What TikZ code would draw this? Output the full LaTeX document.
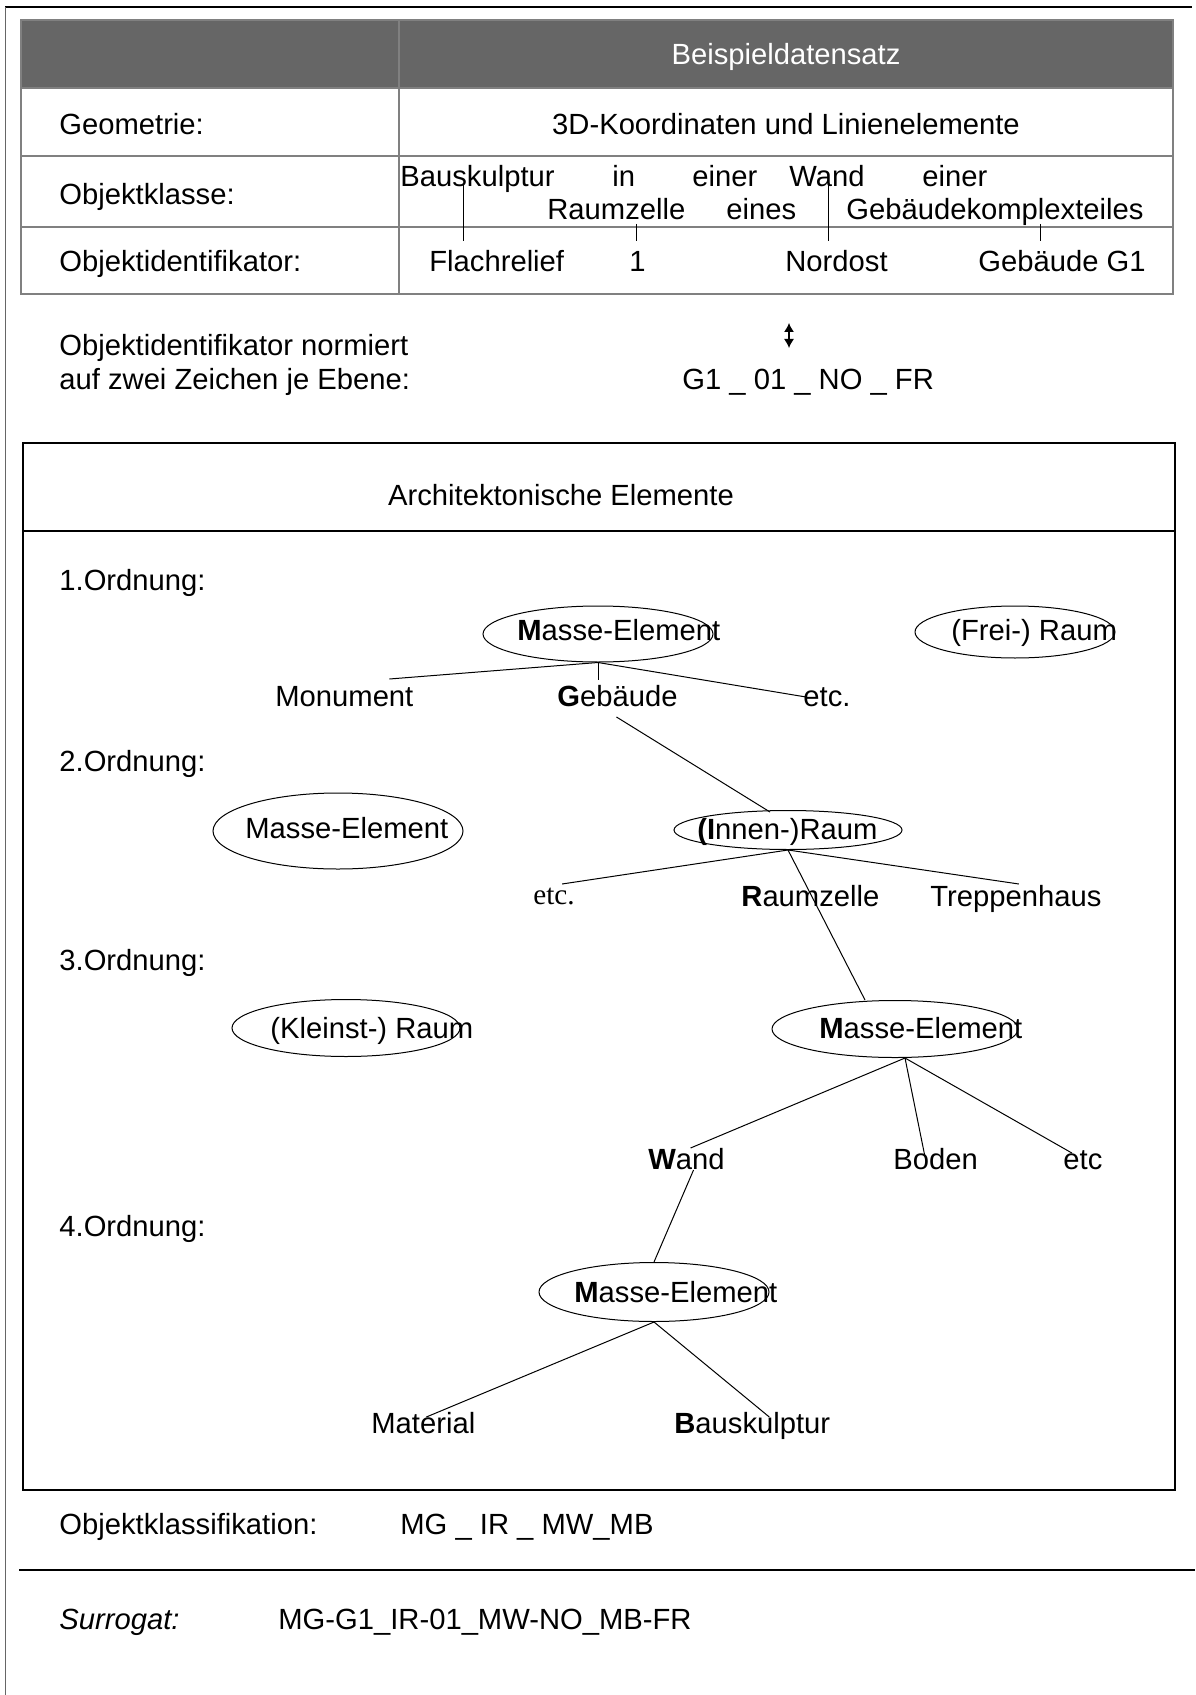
\documentclass[tikz,border=0pt]{standalone}
\usepackage{fontspec}
\setmainfont{Liberation Sans}
\newfontfamily\timesfont{Liberation Serif}
\usetikzlibrary{shapes.geometric,calc,arrows.meta}
\definecolor{hdrgray}{RGB}{102,102,102}
\definecolor{rulegray}{RGB}{128,128,128}
\begin{document}
\begin{tikzpicture}[x=0.5pt,y=-0.5pt,
  txt/.style={inner sep=0pt, anchor=base west, font=\fontsize{14.6pt}{17pt}\selectfont},
  oval/.style={draw, ellipse, inner sep=0pt, line width=0.5pt},
  conn/.style={line width=0.5pt},
  tabrule/.style={draw=rulegray, line width=1pt},
  boxrule/.style={line width=1pt}]
\useasboundingbox (0,0) rectangle (1195,1695);
\fill[white] (0,0) rectangle (1195,1695);

% page frame
\draw[line width=1pt] (5,7) -- (1192,7);
\draw[line width=0.5pt, black!60] (5,7) -- (5,1695);

% data-set table
\fill[hdrgray] (21,20) rectangle (1173,88);
\draw[tabrule] (21,20) rectangle (1173,294);
\draw[tabrule] (399,20) -- (399,294);
\draw[tabrule] (21,88) -- (1173,88) (21,156) -- (1173,156) (21,227) -- (1173,227);

\node[txt, white, anchor=base] (hdr) at (786,65) {Beispieldatensatz};
\node[txt] (geoL) at (59,135) {Geometrie:};
\node[txt, anchor=base] (geoV) at (786,135) {3D-Koordinaten und Linienelemente};
\node[txt] (klL) at (59,205) {Objektklasse:};
\node[txt] (kBau) at (400,187) {Bauskulptur};
\node[txt] (kIn) at (612,187) {in};
\node[txt] (kEin1) at (692,187) {einer};
\node[txt] (kWand) at (789,187) {Wand};
\node[txt] (kEin2) at (922,187) {einer};
\node[txt] (kRz) at (547,220) {Raumzelle};
\node[txt] (kEines) at (726,220) {eines};
\node[txt] (kGeb) at (846,220) {Gebäudekomplexteiles};
\node[txt] (idL) at (59,272) {Objektidentifikator:};
\node[txt] (iFl) at (429,272) {Flachrelief};
\node[txt] (iEins) at (629,272) {1};
\node[txt] (iNo) at (785,272) {Nordost};
\node[txt] (iG1) at (978,272) {Gebäude G1};

% class words linked to their identifiers
\draw[conn] ($(kBau.base west)+(63,-2)$) -- ($(iFl.base west)+(34,-31)$);
\draw[conn] ($(kRz.base west)+(89,4)$) -- ($(iEins.base west)+(7,-31)$);
\draw[conn] ($(kWand.base west)+(39,-2)$) -- ($(iNo.base west)+(43,-31)$);
\draw[conn] ($(kGeb.base west)+(194,4)$) -- ($(iG1.base west)+(62,-31)$);

% normalised identifier
\node[txt] (nrm1) at (59,356) {Objektidentifikator normiert};
\node[txt] (nrm2) at (59,390) {auf zwei Zeichen je Ebene:};
\node[txt] (code) at (682,390) {G1 \_ 01 \_ NO \_ FR};
\draw[line width=0.6pt, {Latex[length=4.5pt,width=5pt]}-{Latex[length=4.5pt,width=5pt]}]
  ($(code.base west)+(107,-67)$) -- ($(code.base west)+(107,-42)$);

% architectural elements box
\draw[boxrule] (23,443) rectangle (1175,1490);
\draw[boxrule] (23,531) -- (1175,531);
\node[txt, anchor=base] (arch) at (561,505) {Architektonische Elemente};

\node[txt] (ord1) at (59,590) {1.Ordnung:};
\node[txt] (ord2) at (59,771) {2.Ordnung:};
\node[txt] (ord3) at (59,970) {3.Ordnung:};
\node[txt] (ord4) at (59,1236) {4.Ordnung:};

% order 1
\node[oval, minimum width=115pt, minimum height=28pt] (me1) at (598,634) {};
\node[txt] (me1t) at (517,640) {\textbf{M}asse-Element};
\node[oval, minimum width=100pt, minimum height=26pt] (frei) at (1015,632) {};
\node[txt] (freit) at (951,640) {(Frei-) Raum};
\node[txt] (mon) at (275,706) {Monument};
\node[txt] (geb) at (557,706) {\textbf{G}ebäude};
\node[txt] (etcA) at (803,706) {etc.};
\draw[conn] (me1.south) -- ($(mon.base)+(45,-27)$);
\draw[conn] (me1.south) -- ($(me1.south |- geb.north)+(0,-4)$);
\draw[conn] (me1.south) -- ($(etcA.base west)+(3,-9)$);

% order 2
\node[oval, minimum width=125pt, minimum height=38pt] (me2) at (338,831) {};
\node[txt] (me2t) at (245,838) {Masse-Element};
\node[oval, minimum width=114pt, minimum height=19.5pt] (ir) at (788,830) {};
\node[txt] (irt) at (697,839) {\textbf{(I}nnen-)Raum};
\draw[conn] ($(geb.base)+(-1,11)$) -- ($(ir.north)+(-18,2)$);
\node[txt] (etcB) at (533,904) {\timesfont etc.};
\node[txt] (rz) at (741,906) {\textbf{R}aumzelle};
\node[txt] (trep) at (930,906) {Treppenhaus};
\draw[conn] (ir.south) -- ($(etcB.base)+(8,-20)$);
\draw[conn] (ir.south) -- ($(trep.base)+(3,-22)$);

% order 3
\node[oval, minimum width=114pt, minimum height=28.5pt] (klein) at (346,1028) {};
\node[txt] (kleint) at (270,1038) {(Kleinst-) Raum};
\node[oval, minimum width=123pt, minimum height=28.5pt] (me3) at (895,1029) {};
\node[txt] (me3t) at (819,1038) {\textbf{M}asse-Element};
\draw[conn] (ir.south) -- ($(me3.north)+(-30,0)$);
\coordinate (me3o) at ($(me3.south)+(10,0)$);
\node[txt] (wand) at (648,1169) {\textbf{W}and};
\node[txt] (boden) at (893,1169) {Boden};
\node[txt] (etcC) at (1063,1169) {etc};
\draw[conn] (me3o) -- ($(wand.base)+(4,-21)$);
\draw[conn] (me3o) -- ($(boden.base)+(-11,-14)$);
\draw[conn] (me3o) -- ($(etcC.base)+(-11,-16)$);

% order 4
\node[oval, minimum width=115pt, minimum height=29.5pt] (me4) at (654,1292) {};
\node[txt] (me4t) at (574,1302) {\textbf{M}asse-Element};
\draw[conn] ($(wand.base)+(7,1)$) -- (me4.north);
\node[txt] (mat) at (371,1433) {Material};
\node[txt] (bsk) at (674,1433) {\textbf{B}auskulptur};
\draw[conn] (me4.south) -- ($(mat.base)+(3,-16)$);
\draw[conn] (me4.south) -- ($(bsk.base)+(17,-16)$);

% classification and surrogate key
\node[txt] (okl) at (59,1534) {Objektklassifikation:};
\node[txt] (oklv) at (400,1534) {MG \_ IR \_ MW\_MB};
\draw[line width=1pt] (19,1570) -- (1195,1570);
\node[txt] (sur) at (59,1629) {\textit{Surrogat:}};
\node[txt] (surv) at (278,1629) {MG-G1\_IR-01\_MW-NO\_MB-FR};
\end{tikzpicture}
\end{document}
